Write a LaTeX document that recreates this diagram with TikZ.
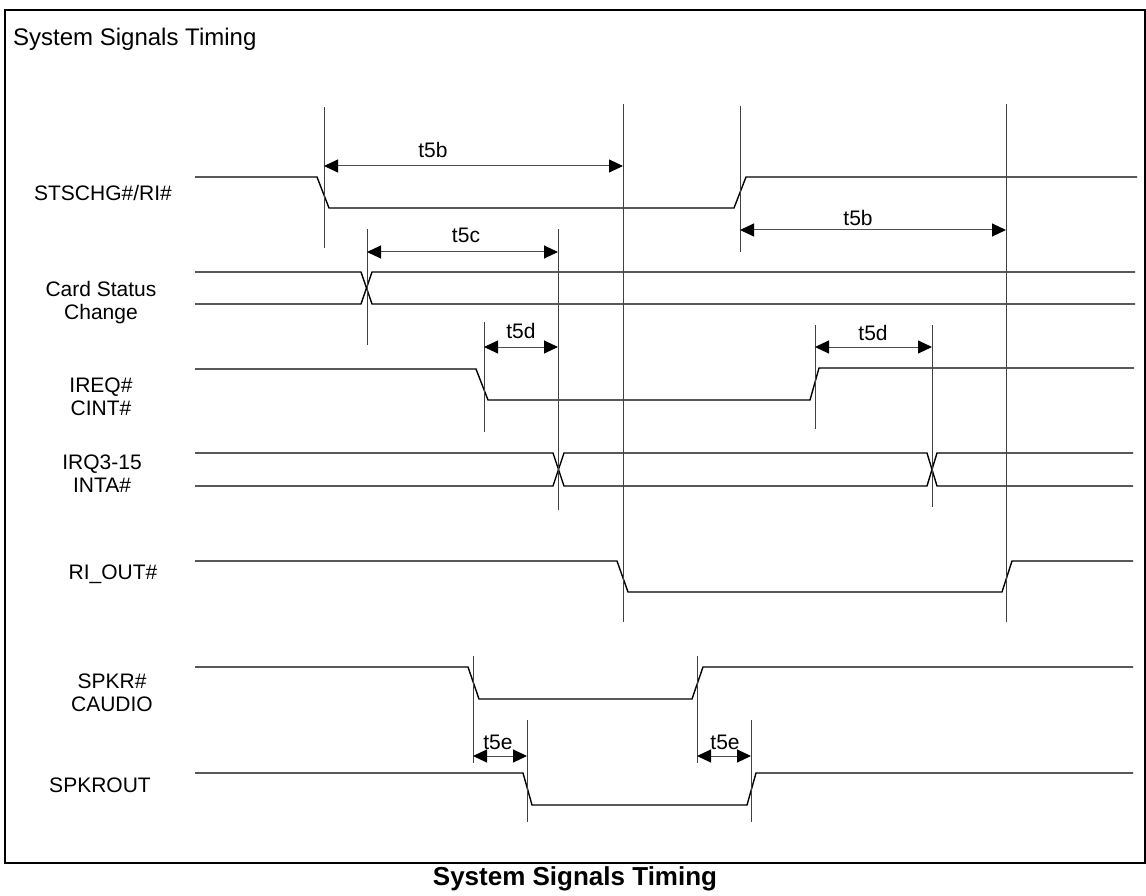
\documentclass[tikz,border=0pt]{standalone}
\usepackage{fontspec}
\setmainfont{Liberation Sans}
\usetikzlibrary{arrows.meta}
\begin{document}
\begin{tikzpicture}[x=1pt,y=-1pt,
  sig/.style={line width=1.4pt,black,line join=miter},
  marker/.style={line width=1pt,black!75},
  dim/.style={line width=1pt,draw=black!70,{Triangle[length=14pt,width=13pt,color=black]}-{Triangle[length=14pt,width=13pt,color=black]}},
  lbl/.style={font=\fontsize{21}{23}\selectfont,align=center,inner sep=0pt},
  tlbl/.style={font=\fontsize{21}{25}\selectfont,inner sep=0pt}]
\useasboundingbox (0,0) rectangle (1146,896);
% frame
\draw[line width=1.4pt] (5,10) rectangle (1145,863);
\node[anchor=west,inner sep=0pt,font=\fontsize{24}{28}\selectfont] (title) at (13,39) {System Signals Timing};
\node[inner sep=0pt,font=\fontsize{26}{30}\selectfont\bfseries] (caption) at (575,879) {System Signals Timing};

% signal labels
\node[lbl] (lstsc) at (103,193) {STSCHG\#/RI\#};
\node[lbl] (lcsc) at (101,303) {Card Status\\Change};
\node[lbl] (lireq) at (101,397) {IREQ\#\\CINT\#};
\node[lbl] (lirq) at (102,474) {IRQ3-15\\INTA\#};
\node[lbl] (lriout) at (113,574) {RI\_OUT\#};
\node[lbl] (lspkr) at (112,693) {SPKR\#\\CAUDIO};
\node[lbl] (lspko) at (100,785) {SPKROUT};

% waveforms
\draw[sig] (195,177) -- (317,177) -- (329,208) -- (734,208) -- (746,177) -- (1137,177);
\draw[sig] (195,272) -- (361,272) -- (372,304) -- (1135,304);
\draw[sig] (195,304) -- (361,304) -- (372,272) -- (1135,272);
\draw[sig] (195,369) -- (476,369) -- (488,400) -- (810,400) -- (819,368) -- (1134,368);
\draw[sig] (195,453) -- (553,453) -- (564,486) -- (927,486) -- (937,453) -- (1133,453);
\draw[sig] (195,486) -- (553,486) -- (564,453) -- (927,453) -- (937,486) -- (1133,486);
\draw[sig] (195,561) -- (617,561) -- (628,592) -- (1002,592) -- (1012,561) -- (1133,561);
\draw[sig] (195,667) -- (468,667) -- (479,699) -- (692,699) -- (703,667) -- (1133,667);
\draw[sig] (195,773) -- (523,773) -- (532,805) -- (747,805) -- (756,773) -- (1133,773);

% timing marker lines
\foreach \n/\x/\a/\b in {v1/324/107/248, v2/623/104/622, v3/740/106/252, v4/1006/104/622,
  v5/367/229/345, v6/558/229/510, v7/484/322/432, v8/815/325/429, v9/932/325/507,
  v10/473/656/763, v11/697/656/763, v12/527/720/822, v13/751/720/822}{
  \coordinate (\n t) at (\x,\a);
  \coordinate (\n b) at (\x,\b);
  \draw[marker] (\n t) -- (\n b);
}

% dimension arrows
\coordinate (a1s) at (324,166); \coordinate (a1e) at (623,166);
\coordinate (a2s) at (740,230); \coordinate (a2e) at (1006,230);
\coordinate (a3s) at (367,252); \coordinate (a3e) at (558,252);
\coordinate (a4s) at (484,347); \coordinate (a4e) at (558,347);
\coordinate (a5s) at (815,347); \coordinate (a5e) at (932,347);
\coordinate (a6s) at (473,756); \coordinate (a6e) at (527,756);
\coordinate (a7s) at (697,756); \coordinate (a7e) at (751,756);
\draw[dim] (a1s) -- (a1e);
\draw[dim] (a2s) -- (a2e);
\draw[dim] (a3s) -- (a3e);
\draw[dim] (a4s) -- (a4e);
\draw[dim] (a5s) -- (a5e);
\draw[dim] (a6s) -- (a6e);
\draw[dim] (a7s) -- (a7e);

\node[tlbl] (t1) at (433,150) {t5b};
\node[tlbl] (t2) at (858,218) {t5b};
\node[tlbl] (t3) at (466,235) {t5c};
\node[tlbl] (t4) at (521,331) {t5d};
\node[tlbl] (t5) at (873,333) {t5d};
\node[tlbl] (t6) at (498,742) {t5e};
\node[tlbl] (t7) at (725,742) {t5e};
\end{tikzpicture}
\end{document}
